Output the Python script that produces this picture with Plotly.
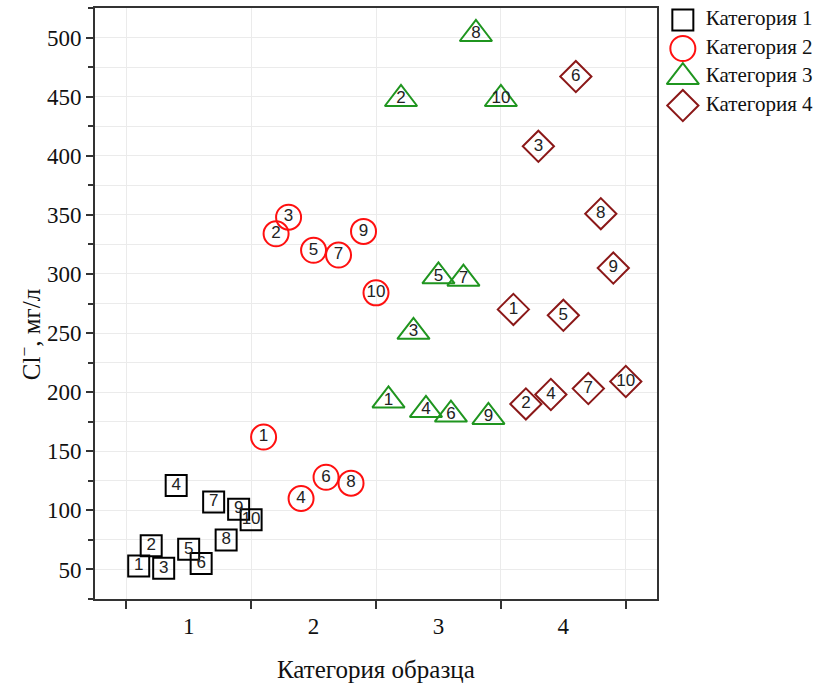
import plotly.graph_objects as go

# Sample categories and chloride concentrations (mg/L) for samples 1..10
categories = ["Категория 1", "Категория 2", "Категория 3", "Категория 4"]
sample_ids = [1, 2, 3, 4, 5, 6, 7, 8, 9, 10]
cat1_values = [53, 70, 51, 121, 67, 55, 107, 75, 101, 92]
cat2_values = [162, 334, 348, 110, 320, 128, 316, 123, 336, 284]
cat3_values = [193, 448, 251, 185, 298, 181, 296, 503, 179, 448]
cat4_values = [270, 190, 408, 198, 265, 467, 203, 351, 305, 209]
x_tick_labels = ["1", "2", "3", "4"]
x_title = "Категория образца"
y_title = "Cl<sup>−</sup>, мг/л"

series_values = [cat1_values, cat2_values, cat3_values, cat4_values]

styles = [
    dict(symbol="square-open", color="#000000", size=21),
    dict(symbol="circle-open", color="#ff1010", size=25),
    dict(symbol="triangle-up-open", color="#1f951f", size=28),
    dict(symbol="diamond-open", color="#8b1818", size=24),
]

SERIF = "Liberation Serif, Times New Roman, serif"
SANS = "Liberation Sans, Arial, sans-serif"
INK = "#111111"

fig = go.Figure()

for k, (name, vals, st) in enumerate(zip(categories, series_values, styles)):
    group = k + 1
    # samples are spread across the width of their category band
    xs = [group - 0.5 + sid / 10 for sid in sample_ids]
    fig.add_trace(go.Scatter(
        x=xs, y=vals, mode="markers+text", name=name,
        text=[str(s) for s in sample_ids], textposition="middle center",
        textfont=dict(family=SANS, size=17, color="#222222"),
        marker=dict(symbol=st["symbol"], size=st["size"], color=st["color"],
                    line=dict(width=2, color=st["color"])),
        showlegend=False, cliponaxis=False,
    ))

# legend keys drawn on a separate pair of axes beside the plot
for k, (name, st) in enumerate(zip(categories, styles)):
    fig.add_trace(go.Scatter(
        x=[20], y=[k], xaxis="x2", yaxis="y2", mode="markers",
        marker=dict(symbol=st["symbol"], size=st["size"], color=st["color"],
                    line=dict(width=2, color=st["color"])),
        showlegend=False, hoverinfo="skip", cliponaxis=False,
    ))
fig.add_trace(go.Scatter(
    x=[43] * len(categories), y=list(range(len(categories))),
    xaxis="x2", yaxis="y2", mode="text", text=categories,
    textposition="middle right",
    textfont=dict(family=SERIF, size=21, color=INK),
    showlegend=False, hoverinfo="skip", cliponaxis=False,
))

grid = "#ebebeb"
frame = "#333333"

fig.update_layout(
    width=828, height=686,
    margin=dict(l=95, r=5, t=8, b=87),
    paper_bgcolor="white", plot_bgcolor="white",
    showlegend=False,
    font=dict(family=SERIF),
    xaxis=dict(
        domain=[0, 0.772], range=[0.25, 4.75],
        tickvals=[1, 2, 3, 4], ticktext=x_tick_labels,
        ticks="outside", ticklen=5, tickcolor="rgba(0,0,0,0)",
        showgrid=False, zeroline=False,
        minor=dict(tick0=0.5, dtick=1, ticks="outside", ticklen=8,
                   tickwidth=1.5, tickcolor=frame, showgrid=True,
                   gridcolor=grid, gridwidth=1),
        showline=True, linecolor=frame, linewidth=2, mirror=True,
        tickfont=dict(family=SERIF, size=23, color=INK),
    ),
    yaxis=dict(
        range=[25, 525], tick0=50, dtick=50,
        ticks="outside", ticklen=7, tickwidth=1.5, tickcolor=frame,
        showgrid=True, gridcolor=grid, gridwidth=1, zeroline=False,
        minor=dict(dtick=25, ticks="outside", ticklen=5, tickwidth=1.5,
                   tickcolor=frame, showgrid=True, gridcolor=grid),
        showline=True, linecolor=frame, linewidth=2, mirror=True,
        tickfont=dict(family=SERIF, size=23, color=INK),
    ),
    xaxis2=dict(domain=[0.78, 1], range=[0, 160.2], visible=False,
                anchor="y2", fixedrange=True),
    yaxis2=dict(domain=[0, 1], range=[20.3, -0.42], visible=False,
                anchor="x2", fixedrange=True),
    annotations=[
        dict(text=x_title, xref="paper", yref="paper", x=0.386, y=-0.1185,
             xanchor="center", yanchor="middle", showarrow=False,
             font=dict(family=SERIF, size=25, color=INK)),
        dict(text=y_title, xref="paper", yref="paper", x=-0.0893, y=0.448,
             xanchor="center", yanchor="middle", showarrow=False,
             textangle=-90, font=dict(family=SERIF, size=25, color=INK)),
    ],
)

fig.write_html("out.html")
